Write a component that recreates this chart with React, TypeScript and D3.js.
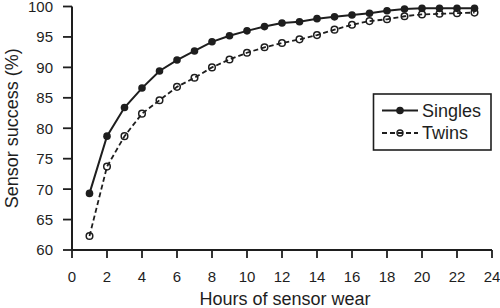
import React from "react";
import * as d3 from "d3";

const hours = [1, 2, 3, 4, 5, 6, 7, 8, 9, 10, 11, 12, 13, 14, 15, 16, 17, 18, 19, 20, 21, 22, 23];
const singles = [69.3, 78.7, 83.4, 86.6, 89.4, 91.2, 92.7, 94.2, 95.2, 96.0, 96.7, 97.3, 97.5, 98.0, 98.3, 98.6, 98.9, 99.3, 99.6, 99.7, 99.7, 99.7, 99.7];
const twins = [62.3, 73.7, 78.7, 82.4, 84.6, 86.8, 88.3, 90.0, 91.3, 92.4, 93.3, 94.0, 94.6, 95.3, 96.2, 97.0, 97.6, 97.9, 98.4, 98.7, 98.8, 98.9, 99.0];
const xTicks = [0, 2, 4, 6, 8, 10, 12, 14, 16, 18, 20, 22, 24];
const yTicks = [60, 65, 70, 75, 80, 85, 90, 95, 100];
const seriesNames = ["Singles", "Twins"];
const xTitle = "Hours of sensor wear";
const yTitle = "Sensor success (%)";

const W = 500;
const H = 308;
const INK = "#1e1e1e";
const FONT = "'Liberation Sans', Arial, Helvetica, sans-serif";

export default function App() {
  const x = d3.scaleLinear().domain([0, 24]).range([72, 492]);
  const y = d3.scaleLinear().domain([60, 100]).range([250, 6.5]);
  const line = d3
    .line<[number, number]>()
    .x((d) => x(d[0]))
    .y((d) => y(d[1]));
  const sData: [number, number][] = hours.map((h, i) => [h, singles[i]]);
  const tData: [number, number][] = hours.map((h, i) => [h, twins[i]]);

  const x0 = x(0);
  const y0 = y(60);

  return (
    <svg
      width={W}
      height={H}
      style={{ position: "absolute", left: 0, top: 0, background: "#fff" }}
      fontFamily={FONT}
    >
      {/* axes */}
      <line x1={x0} x2={x(24)} y1={y0} y2={y0} stroke={INK} strokeWidth={2} />
      <line x1={x0} x2={x0} y1={y(100)} y2={y0} stroke={INK} strokeWidth={2} />
      {xTicks.map((t) => (
        <g key={"xt" + t}>
          <line x1={x(t)} x2={x(t)} y1={y0} y2={y0 + 8} stroke={INK} strokeWidth={1.8} />
          <text x={x(t)} y={282} textAnchor="middle" fontSize={15} fill={INK}>
            {t}
          </text>
        </g>
      ))}
      {yTicks.map((t) => (
        <g key={"yt" + t}>
          <line x1={x0 - 9} x2={x0} y1={y(t)} y2={y(t)} stroke={INK} strokeWidth={1.8} />
          <text x={53} y={y(t)} dy="0.36em" textAnchor="end" fontSize={15} fill={INK}>
            {t}
          </text>
        </g>
      ))}
      <text x={285} y={305} textAnchor="middle" fontSize={18} fill={INK}>
        {xTitle}
      </text>
      <text
        transform={`translate(18, ${(y(60) + y(100)) / 2}) rotate(-90)`}
        textAnchor="middle"
        fontSize={18}
        fill={INK}
      >
        {yTitle}
      </text>

      {/* twins */}
      <path d={line(tData) || ""} fill="none" stroke={INK} strokeWidth={1.8} strokeDasharray="5,3" />
      {tData.map((d, i) => (
        <circle key={"tc" + i} cx={x(d[0])} cy={y(d[1])} r={3.3} fill="#fff" fillOpacity={0} stroke={INK} strokeWidth={1.5} />
      ))}
      {/* singles */}
      <path d={line(sData) || ""} fill="none" stroke={INK} strokeWidth={2} />
      {sData.map((d, i) => (
        <circle key={"sc" + i} cx={x(d[0])} cy={y(d[1])} r={3.8} fill={INK} />
      ))}

      {/* legend */}
      <rect x={373.5} y={94} width={117.5} height={56} fill="#fff" stroke={INK} strokeWidth={1.6} />
      <line x1={382} x2={418} y1={110.5} y2={110.5} stroke={INK} strokeWidth={2} />
      <circle cx={400} cy={110.5} r={3.8} fill={INK} />
      <text x={422} y={110.5} dy="0.36em" fontSize={18} fill={INK}>
        {seriesNames[0]}
      </text>
      <line x1={382} x2={418} y1={133} y2={133} stroke={INK} strokeWidth={1.8} strokeDasharray="5,3" />
      <circle cx={400} cy={133} r={3} fill="none" stroke={INK} strokeWidth={1.4} />
      <text x={422} y={133} dy="0.36em" fontSize={18} fill={INK}>
        {seriesNames[1]}
      </text>
    </svg>
  );
}
